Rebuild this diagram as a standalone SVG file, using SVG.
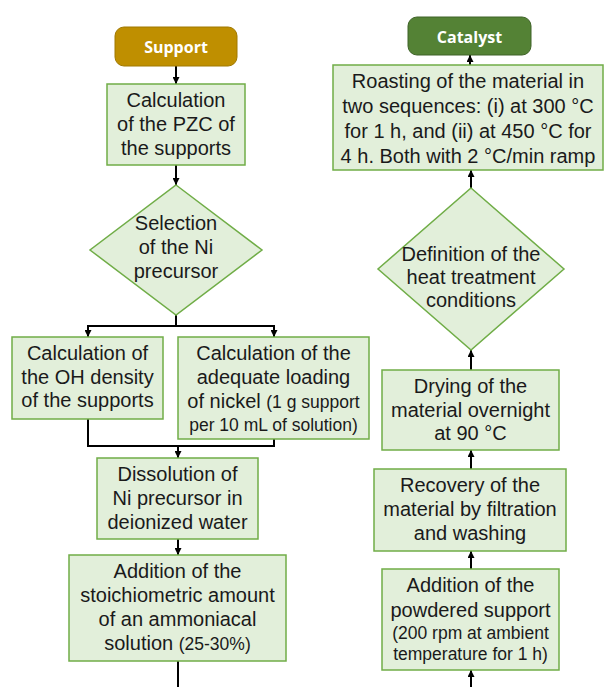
<svg xmlns="http://www.w3.org/2000/svg" width="604" height="687" viewBox="0 0 604 687">
<defs>
<style>
.box{fill:#e2efda;stroke:#70ad47;stroke-width:1.5}
.t{font-family:"Liberation Sans",Arial,sans-serif;font-size:20px;fill:#1a1a1a;text-anchor:middle}
.s{font-size:17.5px}
.h{font-family:"Open Sans","Liberation Sans",sans-serif;font-size:16px;font-weight:bold;fill:#fff;text-anchor:middle}
.c{fill:none;stroke:#000;stroke-width:2}
</style>
<marker id="a" viewBox="0 0 10 10" refX="10" refY="5" markerWidth="7" markerHeight="7" orient="auto" markerUnits="userSpaceOnUse">
<path d="M0,0 L10,5 L0,10 z" fill="#000"/>
</marker>
</defs>
<rect width="604" height="687" fill="#fff"/>
<g id="connectors">
<path class="c" d="M176,66 V84" marker-end="url(#a)"/>
<path class="c" d="M176,165 V185" marker-end="url(#a)"/>
<path class="c" d="M176,315 V326 M87,326 H275"/>
<path class="c" d="M88,326 V337" marker-end="url(#a)"/>
<path class="c" d="M274,326 V337" marker-end="url(#a)"/>
<path class="c" d="M88,419 V446 H274 V439"/>
<path class="c" d="M178,446 V458" marker-end="url(#a)"/>
<path class="c" d="M178,539 V555" marker-end="url(#a)"/>
<path class="c" d="M178,661 V687"/>
<path class="c" d="M470,65 V55" marker-end="url(#a)"/>
<path class="c" d="M471,188 V170" marker-end="url(#a)"/>
<path class="c" d="M471,370 V350" marker-end="url(#a)"/>
<path class="c" d="M471,469 V450" marker-end="url(#a)"/>
<path class="c" d="M471,569 V551" marker-end="url(#a)"/>
<path class="c" d="M471,687 V670" marker-end="url(#a)"/>
</g>
<g id="support">
<rect x="115" y="27" width="122" height="39" rx="9" fill="#bf8f00" stroke="#a07800" stroke-width="1"/>
<text class="h" x="176" y="52.5">Support</text>
</g>
<g id="pzc">
<rect class="box" x="107" y="84" width="138" height="81"/>
<text class="t" x="176" y="107">Calculation</text>
<text class="t" x="176" y="131">of the PZC of</text>
<text class="t" x="176" y="155">the supports</text>
</g>
<g id="selection">
<path class="box" d="M176,185 L262,250 L176,315 L90,250 z"/>
<text class="t" x="176" y="230">Selection</text>
<text class="t" x="176" y="254">of the Ni</text>
<text class="t" x="176" y="278">precursor</text>
</g>
<g id="oh">
<rect class="box" x="12" y="337" width="151" height="82"/>
<text class="t" x="87.5" y="360">Calculation of</text>
<text class="t" x="87.5" y="384">the OH density</text>
<text class="t" x="87.5" y="407">of the supports</text>
</g>
<g id="nickel">
<rect class="box" x="178" y="337" width="191" height="102"/>
<text class="t" x="273.5" y="360">Calculation of the</text>
<text class="t" x="273.5" y="384">adequate loading</text>
<text class="t" x="273.5" y="408">of nickel <tspan class="s">(1 g support</tspan></text>
<text class="t s" x="273.5" y="431">per 10 mL of solution)</text>
</g>
<g id="dissolution">
<rect class="box" x="97" y="458" width="161" height="81"/>
<text class="t" x="177.5" y="481">Dissolution of</text>
<text class="t" x="177.5" y="505">Ni precursor in</text>
<text class="t" x="177.5" y="529">deionized water</text>
</g>
<g id="ammonia">
<rect class="box" x="69" y="555" width="217" height="106"/>
<text class="t" x="177.5" y="578">Addition of the</text>
<text class="t" x="177.5" y="602">stoichiometric amount</text>
<text class="t" x="177.5" y="626">of an ammoniacal</text>
<text class="t" x="177.5" y="650">solution <tspan class="s">(25-30%)</tspan></text>
</g>
<g id="catalyst">
<rect x="408" y="17" width="123" height="38" rx="9" fill="#548235" stroke="#3f6328" stroke-width="1"/>
<text class="h" x="469.5" y="42.5">Catalyst</text>
</g>
<g id="roasting">
<rect class="box" x="333" y="65" width="270" height="105"/>
<text class="t" x="468" y="88">Roasting of the material in</text>
<text class="t" x="468" y="113">two sequences: (i) at 300 °C</text>
<text class="t" x="468" y="138">for 1 h, and (ii) at 450 °C for</text>
<text class="t" x="468" y="163">4 h. Both with 2 °C/min ramp</text>
</g>
<g id="heat">
<path class="box" d="M471,188 L564,269 L471,350 L378,269 z"/>
<text class="t" x="471" y="261">Definition of the</text>
<text class="t" x="471" y="284">heat treatment</text>
<text class="t" x="471" y="307">conditions</text>
</g>
<g id="drying">
<rect class="box" x="382" y="370" width="177" height="80"/>
<text class="t" x="470.5" y="393">Drying of the</text>
<text class="t" x="470.5" y="417">material overnight</text>
<text class="t" x="470.5" y="440">at 90 °C</text>
</g>
<g id="recovery">
<rect class="box" x="374" y="469" width="192" height="82"/>
<text class="t" x="470" y="492">Recovery of the</text>
<text class="t" x="470" y="516">material by filtration</text>
<text class="t" x="470" y="540">and washing</text>
</g>
<g id="powder">
<rect class="box" x="382" y="569" width="177" height="101"/>
<text class="t" x="470.5" y="592">Addition of the</text>
<text class="t" x="470.5" y="617">powdered support</text>
<text class="t s" x="470.5" y="639">(200 rpm at ambient</text>
<text class="t s" x="470.5" y="660">temperature for 1 h)</text>
</g>
</svg>
